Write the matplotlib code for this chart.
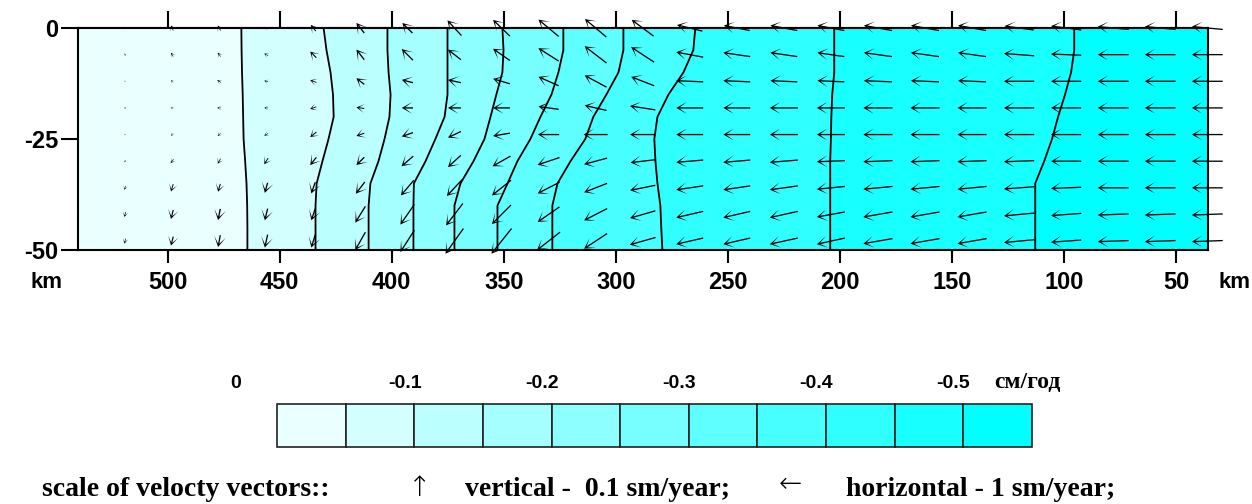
import matplotlib
matplotlib.use("Agg")
from matplotlib import pyplot as plt
import numpy as np

plt.rcParams['axes.unicode_minus'] = False

# depth samples (km) used for the isoline positions
depth_pts = [0, -5, -10, -15, -20, -25, -30, -35, -40, -45, -50]

# positions (km along profile) of isolines -0.05 ... -0.50 sm/year
iso_01 = [467.1, 467.0, 466.8, 466.5, 466.3, 466.1, 465.4, 464.8, 464.5, 464.4, 464.4]
iso_02 = [430.4, 429.1, 427.3, 426.2, 425.9, 428.2, 430.9, 433.5, 434.0, 434.0, 434.0]
iso_03 = [401.9, 401.9, 401.4, 400.5, 401.0, 403.2, 405.9, 409.5, 410.3, 410.3, 410.3]
iso_04 = [375.1, 375.1, 375.1, 375.1, 376.4, 380.5, 384.9, 390.1, 390.3, 390.3, 390.3]
iso_05 = [350.6, 350.1, 350.6, 353.3, 355.9, 358.6, 363.5, 369.3, 372.0, 372.0, 372.0]
iso_06 = [323.4, 323.4, 325.6, 328.7, 333.6, 338.1, 343.9, 348.3, 352.8, 352.8, 352.8]
iso_07 = [296.6, 296.6, 298.8, 304.2, 310.0, 313.6, 320.2, 326.0, 328.3, 328.3, 328.3]
iso_08 = [264.5, 265.4, 269.8, 276.5, 281.4, 282.8, 282.3, 281.4, 280.1, 279.7, 279.2]
iso_09 = [202.5, 202.5, 202.5, 203.4, 203.8, 204.0, 204.3, 204.3, 204.3, 204.3, 204.3]
iso_10 = [95.4, 95.4, 96.8, 99.5, 102.6, 105.3, 108.8, 112.8, 112.8, 112.8, 112.8]
iso_lines = [iso_01, iso_02, iso_03, iso_04, iso_05, iso_06, iso_07, iso_08, iso_09, iso_10]

level_colors = ['#eaffff', '#d3ffff', '#bcffff', '#a5ffff', '#8effff', '#77ffff',
                '#60ffff', '#48ffff', '#30ffff', '#18ffff', '#00ffff']

# velocity grid
x_nodes = [540, 519, 498, 477, 456, 435, 414, 393, 372, 351, 330, 309, 288,
           267, 246, 225, 204, 183, 162, 141, 120, 99, 78, 57, 36]
z_nodes = [0, -6, -12, -18, -24, -30, -36, -42, -48]

# horizontal velocity, sm/year (rows = depth)
u_vel = [
    [-0.01, -0.02, -0.04, -0.05, -0.05, -0.09, -0.14, -0.18, -0.25, -0.30, -0.36, -0.38, -0.39, -0.45, -0.46, -0.48, -0.48, -0.50, -0.50, -0.50, -0.52, -0.54, -0.55, -0.55, -0.55],
    [-0.01, -0.02, -0.04, -0.05, -0.07, -0.11, -0.14, -0.20, -0.23, -0.30, -0.36, -0.39, -0.41, -0.48, -0.48, -0.48, -0.48, -0.50, -0.50, -0.50, -0.54, -0.54, -0.55, -0.55, -0.55],
    [-0.01, -0.02, -0.04, -0.07, -0.07, -0.11, -0.14, -0.20, -0.23, -0.30, -0.36, -0.39, -0.41, -0.48, -0.48, -0.48, -0.48, -0.50, -0.50, -0.50, -0.54, -0.54, -0.55, -0.55, -0.55],
    [-0.01, -0.02, -0.05, -0.07, -0.07, -0.11, -0.14, -0.20, -0.23, -0.30, -0.36, -0.39, -0.45, -0.48, -0.48, -0.50, -0.50, -0.52, -0.52, -0.52, -0.54, -0.54, -0.55, -0.55, -0.55],
    [-0.01, -0.02, -0.04, -0.05, -0.07, -0.11, -0.14, -0.20, -0.23, -0.30, -0.38, -0.43, -0.45, -0.48, -0.48, -0.50, -0.50, -0.52, -0.52, -0.52, -0.54, -0.54, -0.55, -0.55, -0.55],
    [-0.01, -0.02, -0.05, -0.05, -0.07, -0.11, -0.14, -0.21, -0.23, -0.32, -0.39, -0.41, -0.43, -0.48, -0.48, -0.50, -0.50, -0.52, -0.52, -0.52, -0.54, -0.54, -0.55, -0.55, -0.55],
    [-0.01, -0.02, -0.04, -0.04, -0.05, -0.07, -0.16, -0.23, -0.27, -0.34, -0.39, -0.41, -0.45, -0.48, -0.48, -0.50, -0.50, -0.52, -0.52, -0.52, -0.54, -0.54, -0.55, -0.55, -0.55],
    [-0.01, -0.02, -0.04, -0.04, -0.05, -0.07, -0.18, -0.25, -0.30, -0.34, -0.39, -0.41, -0.45, -0.48, -0.48, -0.50, -0.50, -0.52, -0.52, -0.52, -0.54, -0.54, -0.55, -0.55, -0.55],
    [-0.01, -0.02, -0.04, -0.04, -0.05, -0.07, -0.18, -0.25, -0.32, -0.36, -0.41, -0.41, -0.46, -0.48, -0.48, -0.50, -0.50, -0.52, -0.52, -0.52, -0.54, -0.54, -0.55, -0.55, -0.55],
]
# vertical velocity, sm/year
v_vel = [
    [0.002, 0.004, 0.009, 0.009, 0.004, 0.011, 0.018, 0.018, 0.027, 0.029, 0.030, 0.032, 0.029, 0.011, 0.009, 0.009, 0.009, 0.009, 0.009, 0.009, 0.007, 0.007, 0.005, 0.005, 0.005],
    [0.002, 0.004, 0.007, 0.007, 0.004, 0.011, 0.018, 0.020, 0.018, 0.021, 0.023, 0.030, 0.027, 0.009, 0.007, 0.007, 0.007, 0.007, 0.007, 0.007, 0.004, 0.002, 0.0, 0.0, 0.0],
    [0.0, 0.002, 0.004, 0.004, 0.002, 0.004, 0.011, 0.005, 0.005, 0.009, 0.016, 0.021, 0.016, 0.002, 0.002, 0.002, 0.002, 0.002, 0.002, 0.002, 0.0, 0.0, 0.0, 0.0, 0.0],
    [0.0, 0.0, 0.0, 0.0, 0.0, -0.004, 0.002, 0.0, 0.0, 0.0, 0.005, 0.009, 0.007, 0.0, 0.0, 0.0, 0.0, 0.0, 0.0, 0.0, 0.0, 0.0, 0.0, 0.0, 0.0],
    [0.0, -0.002, -0.004, -0.005, -0.004, -0.009, -0.005, -0.007, -0.011, -0.005, 0.0, 0.0, 0.0, 0.0, 0.0, 0.0, 0.0, 0.0, 0.0, 0.0, 0.0, 0.0, 0.0, 0.0, 0.0],
    [0.0, -0.004, -0.007, -0.009, -0.011, -0.014, -0.014, -0.018, -0.021, -0.018, -0.013, -0.011, -0.005, -0.004, -0.004, -0.004, -0.002, -0.002, -0.002, -0.002, -0.002, 0.0, 0.0, 0.0, 0.0],
    [-0.002, -0.007, -0.013, -0.014, -0.018, -0.020, -0.021, -0.027, -0.029, -0.027, -0.020, -0.016, -0.009, -0.007, -0.007, -0.007, -0.005, -0.005, -0.005, -0.005, -0.004, -0.002, 0.0, 0.0, 0.0],
    [-0.004, -0.009, -0.016, -0.020, -0.021, -0.021, -0.029, -0.036, -0.039, -0.034, -0.027, -0.021, -0.013, -0.011, -0.011, -0.011, -0.009, -0.009, -0.009, -0.009, -0.005, -0.004, -0.002, -0.002, -0.002],
    [-0.004, -0.009, -0.016, -0.021, -0.023, -0.023, -0.032, -0.039, -0.045, -0.045, -0.032, -0.027, -0.013, -0.011, -0.011, -0.011, -0.011, -0.009, -0.009, -0.009, -0.005, -0.004, -0.002, -0.002, -0.002],
]

x_ticks = [500, 450, 400, 350, 300, 250, 200, 150, 100, 50]
y_ticks = [0, -25, -50]
y_labels = ['0', '-25', '-50']
bar_labels = ['0', '-0.1', '-0.2', '-0.3', '-0.4', '-0.5']

W, H = 1252, 504
def fx(px):
    return px / W
def fy(py):
    return 1 - py / H

fig = plt.figure(figsize=(12.52, 5.04), dpi=100)
ax = fig.add_axes([fx(78), fy(250), fx(1208) - fx(78), fy(28) - fy(250)])

bounds = [[560] * len(depth_pts)] + iso_lines + [[20] * len(depth_pts)]
for i in range(len(level_colors)):
    ax.fill_betweenx(depth_pts, bounds[i], bounds[i + 1], color=level_colors[i], lw=0)
for line in iso_lines:
    ax.plot(line, depth_pts, color='black', lw=1.3)

X, Z = np.meshgrid(x_nodes, z_nodes)
U = np.array(u_vel)
V = np.array(v_vel) * 10   # vertical scale is 10x the horizontal one
q = ax.quiver(X, Z, U, V, angles='uv', scale_units='dots', scale=1 / 56.0,
              pivot='middle', units='dots', width=1.3, headwidth=9, headlength=8,
              headaxislength=2.6, color='black', zorder=5)
q.set_clip_on(False)

ax.set_xlim(540, 35.7)
ax.set_ylim(-50, 0)
ax.set_xticks(x_ticks)
ax.set_xticklabels([str(t) for t in x_ticks])
ax.set_yticks(y_ticks)
ax.set_yticklabels(y_labels)
ax.tick_params(axis='x', direction='out', length=9, width=1.5, pad=6)
ax.tick_params(axis='y', direction='out', length=12, width=1.5, pad=2)
top = ax.secondary_xaxis('top')
top.set_xticks(x_ticks)
top.set_xticklabels([])
top.tick_params(direction='out', length=12, width=1.5)
top.spines['top'].set_linewidth(1.5)
for lab in ax.get_xticklabels() + ax.get_yticklabels():
    lab.set_fontfamily('Liberation Sans')
    lab.set_fontweight('bold')
    lab.set_fontsize(17)
for sp in ax.spines.values():
    sp.set_linewidth(1.5)

sans = dict(family='Liberation Sans', weight='bold', fontsize=16)
fig.text(fx(62), fy(283), 'km', ha='right', va='center', **sans)
fig.text(fx(1218), fy(283), 'km', ha='left', va='center', **sans)

# colour scale
cax = fig.add_axes([fx(277), fy(447), fx(1032) - fx(277), fy(404) - fy(447)])
cax.bar(range(len(level_colors)), [1] * len(level_colors), width=1, bottom=0,
        color=level_colors, edgecolor='#222222', linewidth=1.2, clip_on=False)
cax.set_xlim(-0.5, len(level_colors) - 0.5)
cax.set_ylim(0, 1)
cax.set_axis_off()

label_px = [236, 405, 542, 679, 816, 953]
for lab, px in zip(bar_labels, label_px):
    fig.text(fx(px), fy(384), lab, ha='center', va='center',
             family='Liberation Sans', weight='bold', fontsize=14)
fig.text(fx(994), fy(382), 'см/год', ha='left', va='center',
         family='Liberation Serif', weight='bold', fontsize=17)

serif = dict(family=['Liberation Serif', 'DejaVu Serif'], weight='bold',
             fontsize=20, va='baseline')
fig.text(fx(42), fy(496), 'scale of velocty vectors::', ha='left', **serif)
fig.text(fx(420), fy(496), '↑', ha='center',
         family=['DejaVu Sans'], fontsize=20, weight='light', va='baseline')
fig.text(fx(465), fy(496), 'vertical -  0.1 sm/year;', ha='left', **serif)
fig.text(fx(790), fy(492), '←', ha='center',
         family=['DejaVu Sans'], fontsize=20, weight='light', va='baseline')
fig.text(fx(846), fy(496), 'horizontal - 1 sm/year;', ha='left', **serif)

plt.savefig('out.png', dpi=100)
